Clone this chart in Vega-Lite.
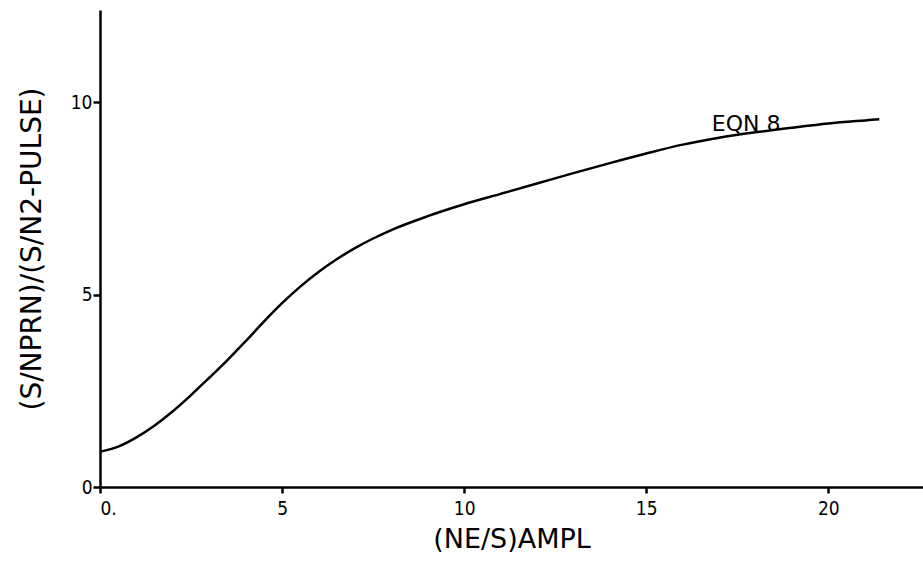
{
  "$schema": "https://vega.github.io/schema/vega-lite/v6.json",
  "autosize": {"type": "none"},
  "padding": {"left": 100, "top": 10, "right": 0, "bottom": 81},
  "width": 823,
  "height": 477,
  "background": "white",
  "config": {
    "view": {"stroke": null},
    "font": "DejaVu Sans Condensed, DejaVu Sans, sans-serif"
  },
  "datasets": {
    "curve": [
      {"x": 0, "y": 0.92},
      {"x": 0.5, "y": 1.05},
      {"x": 1, "y": 1.29},
      {"x": 1.5, "y": 1.6},
      {"x": 2, "y": 1.97},
      {"x": 2.5, "y": 2.39},
      {"x": 3, "y": 2.84},
      {"x": 3.5, "y": 3.3},
      {"x": 4, "y": 3.79},
      {"x": 4.5, "y": 4.3},
      {"x": 5, "y": 4.78},
      {"x": 5.5, "y": 5.21},
      {"x": 6, "y": 5.59},
      {"x": 6.5, "y": 5.92},
      {"x": 7, "y": 6.21},
      {"x": 7.5, "y": 6.46},
      {"x": 8, "y": 6.68},
      {"x": 9, "y": 7.04},
      {"x": 10, "y": 7.35},
      {"x": 11, "y": 7.62},
      {"x": 12, "y": 7.89},
      {"x": 13, "y": 8.16},
      {"x": 14, "y": 8.42},
      {"x": 15, "y": 8.67},
      {"x": 16, "y": 8.9},
      {"x": 17, "y": 9.08},
      {"x": 18, "y": 9.22},
      {"x": 19, "y": 9.34},
      {"x": 20, "y": 9.45},
      {"x": 21, "y": 9.53},
      {"x": 21.4, "y": 9.56}
    ],
    "label": [
      {"x": 16.8, "y": 9.25, "text": "EQN 8"}
    ]
  },
  "layer": [
    {
      "data": {"name": "curve"},
      "mark": {"type": "line", "color": "black", "strokeWidth": 2.5, "interpolate": "monotone"},
      "encoding": {
        "x": {
          "field": "x", "type": "quantitative",
          "scale": {"domain": [0, 22.6], "nice": false, "zero": false},
          "axis": {
            "values": [0, 5, 10, 15, 20],
            "labelExpr": "datum.value == 0 ? '0.' : datum.label",
            "title": "(NE/S)AMPL",
            "titleFont": "DejaVu Sans",
            "titleFontSize": 27,
            "titleFontWeight": "normal",
            "titleColor": "black",
            "titlePadding": 8,
            "labelFontSize": 19,
            "labelColor": "black",
            "labelPadding": 6,
            "domainColor": "black",
            "domainWidth": 2.5,
            "tickColor": "black",
            "tickWidth": 2.5,
            "tickSize": 6,
            "grid": false
          }
        },
        "y": {
          "field": "y", "type": "quantitative",
          "scale": {"domain": [0, 12.4], "nice": false, "zero": false},
          "axis": {
            "values": [0, 5, 10],
            "title": "(S/NPRN)/(S/N2-PULSE)",
            "titleFont": "DejaVu Sans",
            "titleFontSize": 28,
            "titleFontWeight": "normal",
            "titleColor": "black",
            "titlePadding": 24,
            "labelFontSize": 19,
            "labelColor": "black",
            "labelPadding": 1,
            "domainColor": "black",
            "domainWidth": 2.5,
            "tickColor": "black",
            "tickWidth": 2.5,
            "tickSize": 7,
            "grid": false
          }
        }
      }
    },
    {
      "data": {"name": "label"},
      "mark": {"type": "text", "align": "left", "baseline": "alphabetic", "fontSize": 22, "color": "black", "font": "DejaVu Sans"},
      "encoding": {
        "x": {"field": "x", "type": "quantitative"},
        "y": {"field": "y", "type": "quantitative"},
        "text": {"field": "text"}
      }
    }
  ]
}
